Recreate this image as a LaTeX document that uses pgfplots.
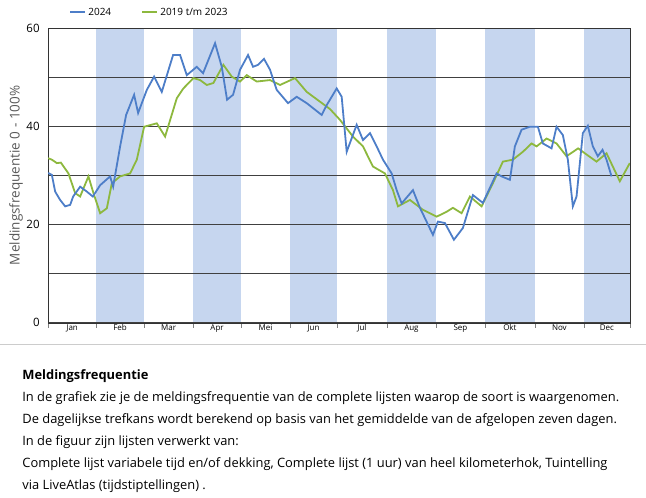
\documentclass[border=0pt]{standalone}
\usepackage{pgfplots}
\pgfplotsset{compat=1.18}
\usepackage{fontspec}
\setmainfont{Open Sans}
\definecolor{blu}{HTML}{4D7EC8}
\definecolor{grn}{HTML}{8DB83E}
\definecolor{band}{HTML}{C6D6EF}
\begin{document}
\begin{tikzpicture}[x=1pt,y=1pt]
\path (0,0) rectangle (646,498);
\begin{axis}[at={(48pt,175pt)},anchor=south west,scale only axis,width=582pt,height=295pt,
 set layers, xmin=48,xmax=630,ymin=0,ymax=60,
 ytick={0,10,...,60}, yticklabels={0,,20,,40,,60},
 /pgf/number format/assume math mode=true,
 yticklabel style={font=\fontsize{11.5}{11.5}\selectfont},
 ymajorgrids, grid style={black!75,line width=0.6pt},
 xtick={48,96,144,193,241,290,337,387,436,485,535,584,630},
 xticklabels={}, xtick pos=bottom, tick align=outside, major tick length=5pt,
 extra x ticks={72,120,168.5,217,265.5,313.5,362,411.5,460.5,510,559.5,607},
 extra x tick labels={Jan,Feb,Mar,Apr,Mei,Jun,Jul,Aug,Sep,Okt,Nov,Dec},
 extra x tick style={major tick length=0pt, xticklabel style={font=\fontsize{8}{8}\selectfont,yshift=2pt}, grid=none},
 ytick style={draw=none},
 axis line style={black!80},
 ylabel={Meldingsfrequentie 0 - 100\%}, ylabel style={font=\fontsize{13.5}{13.5}\selectfont,color=black!65,yshift=-4pt},
 line width=1.8pt]
\begin{pgfonlayer}{axis background}
\fill[band] (axis cs:96,0) rectangle (axis cs:144,60);
\fill[band] (axis cs:193,0) rectangle (axis cs:241,60);
\fill[band] (axis cs:290,0) rectangle (axis cs:337,60);
\fill[band] (axis cs:387,0) rectangle (axis cs:436,60);
\fill[band] (axis cs:485,0) rectangle (axis cs:535,60);
\fill[band] (axis cs:584,0) rectangle (axis cs:630,60);
\end{pgfonlayer}
\addplot[grn,line width=1.8pt] coordinates {
(48,33.5)(51.7,33.2)(56.7,32.5)(60.7,32.6)(68.3,30.4)(75,26.4)(80,25.7)(88.3,29.8)(93.3,26.4)(100,22.3)(106.7,23.3)(111.7,28.4)(120,29.8)(130,30.4)(136.7,33.2)(144,39.9)(156.7,40.6)(165,37.9)(176.7,45.7)(183.3,47.7)(193.3,49.8)(200,49.4)(206.7,48.4)(213.3,48.8)(223.3,52.5)(231.7,50.1)(240,49.1)(246.7,50.4)(256.7,49.1)(270,49.4)(280,48.4)(295,49.8)(306.7,47)(320,45)(330,43.5)(340,41.3)(353,37.9)(363,35.9)(373,31.8)(385,30.4)(393,27)(398,23.7)(410,25)(423,23)(436.7,21.6)(446.7,22.6)(453,23.4)(461.7,22.3)(470,25.7)(481.7,23.7)(493,28.4)(503,32.8)(513,33.2)(523,34.8)(531.7,36.5)(536.7,35.9)(546.7,37.5)(556.7,36.5)(566.7,33.9)(578.3,35.5)(585,34.5)(596.7,32.8)(606.7,34.5)(620,28.8)(630,32.5)};
\addplot[blu,line width=1.8pt] coordinates {
(48,30.5)(51.7,30.1)(55,26.7)(60,25)(65,23.7)(70,24)(73,25.7)(80,27.7)(86.7,26.7)(92.7,25.7)(100,28)(110,29.8)(113,27.7)(120,35.9)(126,42.3)(134,46.4)(138,42.7)(146.7,47.4)(154,50.1)(161.7,47)(173,54.5)(180,54.5)(186.7,50.4)(196.7,52.1)(203,50.8)(215,56.9)(221.7,52.1)(227,45.4)(233,46.4)(240,51.5)(248,54.5)(253,52.1)(258,52.5)(264,53.7)(270,51.5)(276.7,47.4)(288,44.7)(296.7,46)(306.7,44.7)(321.7,42.3)(326.7,44.3)(336.7,47.7)(341.7,46)(346.7,34.8)(356.7,40.3)(363,37.2)(370,38.6)(376.7,35.9)(383,33.2)(391.7,30.4)(396.7,27)(401.7,24.3)(413,27)(420,23.4)(433,17.9)(438,20.6)(445,20.3)(454,16.9)(463,19.3)(473,26)(483,24.4)(496.7,30.4)(501.7,29.8)(510,29.1)(515,35.9)(521.7,39.3)(530,39.9)(538,39.9)(543,36.5)(551.7,35.5)(556.7,39.9)(563,38.2)(568,33.2)(573,23.7)(576.7,25.7)(583,38.6)(588,40.1)(593,35.9)(598,33.9)(602.7,35.2)(606.7,33.2)(611.7,29.8)};
\end{axis}
% legend
\draw[blu,line width=2pt] (70,486) -- (85,486);
\node[anchor=west,font=\fontsize{10}{10}\selectfont,inner sep=2pt] at (86,486) {2024};
\draw[grn,line width=2pt] (142,486) -- (157,486);
\node[anchor=west,font=\fontsize{10}{10}\selectfont,inner sep=2pt] at (158,486) {2019 t/m 2023};
\draw[black!20] (0,154) -- (646,154);
\begin{scope}[every node/.style={anchor=base west,font=\fontsize{12.9}{13}\selectfont,inner sep=0pt}]
\node[font=\fontsize{12.9}{13}\selectfont\bfseries] at (22,118) {Meldingsfrequentie};
\node at (22,96) {In de grafiek zie je de meldingsfrequentie van de complete lijsten waarop de soort is waargenomen.};
\node at (22,74) {De dagelijkse trefkans wordt berekend op basis van het gemiddelde van de afgelopen zeven dagen.};
\node at (22,52) {In de figuur zijn lijsten verwerkt van:};
\node at (22,30) {Complete lijst variabele tijd en/of dekking, Complete lijst (1 uur) van heel kilometerhok, Tuintelling};
\node at (22,8) {via LiveAtlas (tijdstiptellingen) .};
\end{scope}
\end{tikzpicture}
\end{document}
